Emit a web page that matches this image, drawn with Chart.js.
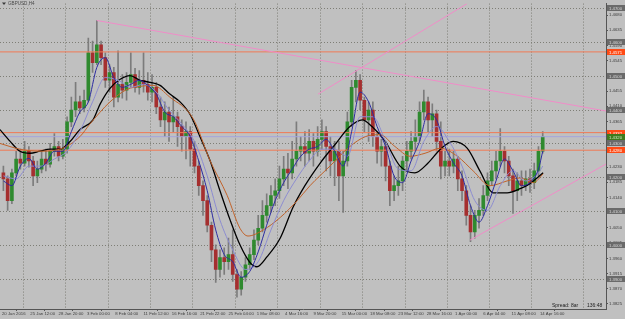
<!DOCTYPE html>
<html>
<head>
<meta charset="utf-8">
<script src="https://cdn.jsdelivr.net/npm/chart.js"></script>
<style>
  html, body { margin: 0; padding: 0; background: #c0c0c0; }
  canvas { display: block; }
</style>
</head>
<body>
<canvas id="gbpChart" width="625" height="319"></canvas>
<script>
// GBPUSD H4 - each candle here stands for 3 H4 bars
const timeLabels = ["20 Jan 2016", "25 Jan 12:00", "28 Jan 20:00", "3 Feb 00:00", "8 Feb 04:00",
  "11 Feb 12:00", "16 Feb 16:00", "21 Feb 22:00", "25 Feb 04:00", "1 Mar 08:00", "4 Mar 16:00",
  "9 Mar 20:00", "15 Mar 00:00", "18 Mar 08:00", "23 Mar 12:00", "28 Mar 16:00", "1 Apr 00:00",
  "6 Apr 04:00", "11 Apr 08:00", "14 Apr 16:00"];
const priceTicks = [1.3825, 1.3870, 1.3915, 1.3960, 1.4005, 1.4050, 1.4095, 1.4140, 1.4185, 1.4230,
  1.4275, 1.4320, 1.4365, 1.4410, 1.4455, 1.4500, 1.4545, 1.4590, 1.4635, 1.4680];
const gridLevels = [1.39, 1.40, 1.41, 1.42, 1.43, 1.44, 1.45, 1.46, 1.47];
const weekLines = [4.6, 14.5, 24.6, 34.5, 44.4, 54.6, 64.5, 74.6, 84.5, 94.6, 104.5, 114.4, 124.3, 136.5];

const opens = [1.4213, 1.4195, 1.4131, 1.4213, 1.4254, 1.4242, 1.4277, 1.4248, 1.4204, 1.4224,
  1.4254, 1.4239, 1.4277, 1.4291, 1.4262, 1.4283, 1.4364, 1.4399, 1.4423, 1.4405,
  1.4428, 1.4568, 1.4539, 1.4592, 1.4554, 1.4487, 1.4510, 1.4437, 1.4475, 1.4458,
  1.4481, 1.4504, 1.4466, 1.4487, 1.4475, 1.4452, 1.4466, 1.4408, 1.4370, 1.4393,
  1.4364, 1.4379, 1.4350, 1.4320, 1.4335, 1.4283, 1.4233, 1.4175, 1.4131, 1.4058,
  1.3985, 1.3927, 1.3962, 1.3950, 1.3971, 1.3912, 1.3869, 1.3904, 1.3941, 1.3971,
  1.4014, 1.4049, 1.4087, 1.4116, 1.4146, 1.4160, 1.4195, 1.4224, 1.4213, 1.4254,
  1.4277, 1.4291, 1.4271, 1.4306, 1.4277, 1.4312, 1.4335, 1.4291, 1.4248, 1.4277,
  1.4204, 1.4248, 1.4364, 1.4466, 1.4487, 1.4428, 1.4370, 1.4399, 1.4320, 1.4277,
  1.4291, 1.4233, 1.4160, 1.4175, 1.4189, 1.4248, 1.4277, 1.4306, 1.4320, 1.4393,
  1.4423, 1.4370, 1.4388, 1.4306, 1.4233, 1.4248, 1.4233, 1.4254, 1.4195, 1.4160,
  1.4087, 1.4038, 1.4087, 1.4102, 1.4146, 1.4189, 1.4219, 1.4248, 1.4277, 1.4248,
  1.4204, 1.4160, 1.4189, 1.4175, 1.4195, 1.4184, 1.4219, 1.4277];
const highs = [1.4233, 1.4204, 1.4224, 1.4277, 1.4283, 1.4306, 1.4291, 1.4262, 1.4248, 1.4277,
  1.4283, 1.4300, 1.4329, 1.4306, 1.4312, 1.4379, 1.4437, 1.4481, 1.4440, 1.4458,
  1.4612, 1.4603, 1.4664, 1.4603, 1.4568, 1.4533, 1.4525, 1.4574, 1.4504, 1.4510,
  1.4568, 1.4522, 1.4516, 1.4568, 1.4510, 1.4504, 1.4481, 1.4437, 1.4423, 1.4408,
  1.4437, 1.4393, 1.4370, 1.4364, 1.4350, 1.4306, 1.4248, 1.4189, 1.4146, 1.4067,
  1.4000, 1.3985, 1.3991, 1.4020, 1.4044, 1.3927, 1.3921, 1.3962, 1.3991, 1.4044,
  1.4087, 1.4131, 1.4151, 1.4175, 1.4195, 1.4233, 1.4262, 1.4271, 1.4306, 1.4364,
  1.4320, 1.4335, 1.4341, 1.4329, 1.4350, 1.4370, 1.4350, 1.4320, 1.4306, 1.4306,
  1.4277, 1.4393, 1.4487, 1.4516, 1.4504, 1.4437, 1.4423, 1.4423, 1.4335, 1.4312,
  1.4306, 1.4248, 1.4204, 1.4233, 1.4262, 1.4306, 1.4335, 1.4370, 1.4423, 1.4458,
  1.4437, 1.4417, 1.4399, 1.4364, 1.4277, 1.4283, 1.4277, 1.4262, 1.4219, 1.4175,
  1.4116, 1.4102, 1.4137, 1.4175, 1.4213, 1.4248, 1.4277, 1.4344, 1.4291, 1.4262,
  1.4224, 1.4213, 1.4219, 1.4219, 1.4224, 1.4242, 1.4291, 1.4335];
const lows = [1.4160, 1.4102, 1.4122, 1.4204, 1.4224, 1.4233, 1.4230, 1.4175, 1.4184, 1.4213,
  1.4219, 1.4230, 1.4262, 1.4248, 1.4254, 1.4271, 1.4350, 1.4379, 1.4388, 1.4393,
  1.4423, 1.4510, 1.4533, 1.4533, 1.4466, 1.4452, 1.4408, 1.4423, 1.4434, 1.4428,
  1.4466, 1.4452, 1.4446, 1.4452, 1.4428, 1.4423, 1.4388, 1.4350, 1.4320, 1.4306,
  1.4335, 1.4291, 1.4277, 1.4254, 1.4233, 1.4213, 1.4146, 1.4087, 1.4038, 1.3950,
  1.3889, 1.3904, 1.3912, 1.3927, 1.3892, 1.3845, 1.3851, 1.3892, 1.3927, 1.3956,
  1.4000, 1.4038, 1.4067, 1.4096, 1.4116, 1.4137, 1.4175, 1.4166, 1.4195, 1.4233,
  1.4248, 1.4233, 1.4248, 1.4233, 1.4262, 1.4283, 1.4219, 1.4204, 1.4175, 1.4131,
  1.4096, 1.4233, 1.4350, 1.4423, 1.4399, 1.4335, 1.4306, 1.4291, 1.4242, 1.4233,
  1.4189, 1.4116, 1.4131, 1.4146, 1.4160, 1.4219, 1.4254, 1.4277, 1.4306, 1.4370,
  1.4335, 1.4320, 1.4277, 1.4195, 1.4204, 1.4204, 1.4213, 1.4160, 1.4131, 1.4058,
  1.4009, 1.4020, 1.4049, 1.4087, 1.4131, 1.4175, 1.4195, 1.4233, 1.4213, 1.4175,
  1.4093, 1.4131, 1.4146, 1.4160, 1.4155, 1.4166, 1.4204, 1.4271];
const closes = [1.4195, 1.4131, 1.4213, 1.4254, 1.4242, 1.4277, 1.4248, 1.4204, 1.4224, 1.4254,
  1.4239, 1.4277, 1.4291, 1.4262, 1.4283, 1.4364, 1.4399, 1.4423, 1.4405, 1.4428,
  1.4568, 1.4539, 1.4592, 1.4554, 1.4487, 1.4510, 1.4437, 1.4475, 1.4458, 1.4481,
  1.4504, 1.4466, 1.4487, 1.4475, 1.4452, 1.4466, 1.4408, 1.4370, 1.4393, 1.4364,
  1.4379, 1.4350, 1.4320, 1.4335, 1.4283, 1.4233, 1.4175, 1.4131, 1.4058, 1.3985,
  1.3927, 1.3962, 1.3950, 1.3971, 1.3912, 1.3869, 1.3904, 1.3941, 1.3971, 1.4014,
  1.4049, 1.4087, 1.4116, 1.4146, 1.4160, 1.4195, 1.4224, 1.4213, 1.4254, 1.4277,
  1.4291, 1.4271, 1.4306, 1.4277, 1.4312, 1.4335, 1.4291, 1.4248, 1.4277, 1.4204,
  1.4248, 1.4364, 1.4466, 1.4487, 1.4428, 1.4370, 1.4399, 1.4320, 1.4277, 1.4291,
  1.4233, 1.4160, 1.4175, 1.4189, 1.4248, 1.4277, 1.4306, 1.4320, 1.4393, 1.4423,
  1.4370, 1.4388, 1.4306, 1.4233, 1.4248, 1.4233, 1.4254, 1.4195, 1.4160, 1.4087,
  1.4038, 1.4087, 1.4102, 1.4146, 1.4189, 1.4219, 1.4248, 1.4277, 1.4248, 1.4204,
  1.4160, 1.4189, 1.4175, 1.4195, 1.4184, 1.4219, 1.4277, 1.4320];

// moving averages (x = candle index)
const fastX = [0, 2, 4, 6, 8, 10, 12, 14, 16, 18, 20, 22, 24, 26, 28, 30, 32, 34, 36, 38, 40, 42, 44, 46,
  48, 50, 52, 54, 56, 58, 60, 62, 64, 66, 68, 70, 72, 74, 76, 78, 80, 82, 84, 86, 88, 90, 92, 94, 96,
  98, 100, 102, 104, 106, 108, 110, 112, 114, 116, 118, 120, 122, 124, 126, 127];
const fastMA = [1.4189, 1.4175, 1.4233, 1.4256, 1.4224, 1.4242, 1.4277, 1.4277, 1.4335, 1.4393,
  1.4423, 1.4525, 1.4554, 1.4495, 1.4466, 1.4475, 1.4487, 1.4472, 1.4446, 1.4393,
  1.4379, 1.4350, 1.4320, 1.4248, 1.4160, 1.4044, 1.3971, 1.3950, 1.3904, 1.3921,
  1.3979, 1.4058, 1.4131, 1.4184, 1.4224, 1.4262, 1.4283, 1.4291, 1.4312, 1.4277,
  1.4233, 1.4335, 1.4452, 1.4423, 1.4350, 1.4291, 1.4204, 1.4184, 1.4248, 1.4306,
  1.4388, 1.4370, 1.4291, 1.4242, 1.4204, 1.4116, 1.4067, 1.4116, 1.4189, 1.4254,
  1.4219, 1.4175, 1.4184, 1.4224, 1.4277];
const midX = [0, 3, 6, 9, 12, 15, 18, 21, 24, 27, 30, 33, 36, 39, 42, 45, 48, 51, 54, 57, 60, 63, 66,
  69, 72, 75, 78, 81, 84, 87, 90, 93, 96, 99, 102, 105, 108, 111, 114, 117, 120, 123, 126, 127];
const midMA = [1.4204, 1.4195, 1.4233, 1.4233, 1.4254, 1.4277, 1.4335, 1.4423, 1.4495, 1.4487,
  1.4466, 1.4475, 1.4452, 1.4399, 1.4358, 1.4306, 1.4204, 1.4073, 1.3985, 1.3927,
  1.3950, 1.4044, 1.4131, 1.4195, 1.4248, 1.4283, 1.4283, 1.4262, 1.4379, 1.4379,
  1.4306, 1.4224, 1.4219, 1.4306, 1.4350, 1.4306, 1.4233, 1.4131, 1.4102, 1.4175,
  1.4219, 1.4189, 1.4213, 1.4233];
const blackX = [-0.8, 1.6, 3.9, 6.3, 8.6, 11, 13.3, 15.7, 18, 21.1, 22.8, 25.1, 27.5, 29.8, 32.2,
  34.5, 36.9, 39.2, 41.6, 44, 46.3, 48.7, 51, 53.4, 55.7, 58.1, 59.7, 62.1, 65.2, 68.2, 71, 74.6,
  78.1, 81.6, 84.5, 86.8, 89.9, 93.4, 96.9, 100, 102.9, 105.9, 109.2, 112.2, 115.3, 118.6, 121.7, 124, 127.1];
const blackMA = [1.4341, 1.4306, 1.4277, 1.4271, 1.4277, 1.4283, 1.4283, 1.4306, 1.4341, 1.4370,
  1.4417, 1.4463, 1.4490, 1.4501, 1.4487, 1.4481, 1.4472, 1.4446, 1.4423, 1.4385,
  1.4320, 1.4248, 1.4160, 1.4073, 1.4000, 1.3947, 1.3935, 1.3965, 1.4020, 1.4111,
  1.4175, 1.4242, 1.4297, 1.4350, 1.4370, 1.4350, 1.4306, 1.4233, 1.4213, 1.4242,
  1.4283, 1.4306, 1.4286, 1.4219, 1.4154, 1.4154, 1.4166, 1.4181, 1.4213];
const orangeX = [-0.8, 3.9, 8.6, 13.3, 18, 20.4, 25.1, 29.1, 32.2, 35.2, 39.2, 44.7, 48.7, 52.7, 55.7,
  57.6, 61.2, 65.2, 69.2, 72.2, 76.9, 81.6, 85.2, 88.7, 92.2, 95.8, 99.3, 102.9, 106.9, 110.6,
  114.6, 118.6, 121.7, 124.8, 127.1];
const orangeMA = [1.4300, 1.4283, 1.4277, 1.4283, 1.4320, 1.4358, 1.4423, 1.4460, 1.4469, 1.4472,
  1.4437, 1.4373, 1.4248, 1.4146, 1.4049, 1.4026, 1.4044, 1.4081, 1.4131, 1.4175,
  1.4233, 1.4291, 1.4320, 1.4326, 1.4291, 1.4262, 1.4271, 1.4286, 1.4262, 1.4219,
  1.4175, 1.4189, 1.4198, 1.4184, 1.4210];

// drawn objects
const trendA = [[22, 1.4664], [141.9, 1.4396]];
const trendB = [[74.1, 1.4446], [109.2, 1.4714]];
const trendC = [[109.9, 1.4014], [141.9, 1.4239]];
const levelLines = [1.4571, 1.4332, 1.4280];
const bidPrice = 1.4320;

const xMin = -0.8, xMax = 141.9;
const upColor = "#2f8a2f", downColor = "#a52f2f", wickColor = "#7c7c7c";

function lineSet(xs, ys, color, width) {
  return {
    type: "line",
    data: xs.map((x, k) => ({ x: x, y: ys[k] })),
    borderColor: color,
    borderWidth: width,
    pointRadius: 0,
    fill: false,
    cubicInterpolationMode: "monotone",
    order: 0
  };
}

function segment(pts, color) {
  return {
    type: "line",
    data: pts.map(p => ({ x: p[0], y: p[1] })),
    borderColor: color,
    borderWidth: 1,
    pointRadius: 0,
    fill: false,
    order: 0
  };
}

const mtPlugin = {
  id: "mtDecor",
  beforeDatasetsDraw(chart) {
    const ctx = chart.ctx, a = chart.chartArea;
    const xs = chart.scales.x, ys = chart.scales.y;
    ctx.save();
    ctx.strokeStyle = "#7e7e76";
    ctx.lineWidth = 1;
    ctx.setLineDash([1, 2]);
    gridLevels.forEach(v => {
      const y = Math.round(ys.getPixelForValue(v)) + 0.5;
      ctx.beginPath(); ctx.moveTo(a.left, y); ctx.lineTo(a.right, y); ctx.stroke();
    });
    weekLines.forEach(v => {
      const x = Math.round(xs.getPixelForValue(v)) + 0.5;
      ctx.beginPath(); ctx.moveTo(x, a.top); ctx.lineTo(x, a.bottom); ctx.stroke();
    });
    ctx.restore();
  },
  afterDraw(chart) {
    const ctx = chart.ctx, a = chart.chartArea;
    const ys = chart.scales.y;
    ctx.save();
    ctx.font = "4.3px 'Liberation Sans'";
    ctx.textBaseline = "middle";
    ctx.textAlign = "left";
    function box(v, bg, fg) {
      const y = Math.round(ys.getPixelForValue(v));
      ctx.fillStyle = bg;
      ctx.fillRect(a.right + 1, y - 3, 18, 6);
      ctx.fillStyle = fg;
      ctx.fillText(v.toFixed(4), a.right + 3, y + 0.5);
    }
    gridLevels.forEach(v => box(v, "#6a6a6a", "#d8d8d8"));
    levelLines.forEach(v => box(v, "#ff4a14", "#ffffff"));
    box(bidPrice, "#3f7a1c", "#d0e8c0");

    // symbol caption
    ctx.fillStyle = "#3a3a3a";
    ctx.beginPath(); ctx.moveTo(2, 2.5); ctx.lineTo(6, 2.5); ctx.lineTo(4, 5); ctx.closePath(); ctx.fill();
    ctx.fillStyle = "#4a4a4a";
    ctx.font = "4.6px 'Liberation Sans'";
    ctx.fillText("GBPUSD,H4", 8, 4);

    // spread / timer
    ctx.fillStyle = "#222";
    ctx.font = "5px 'Liberation Sans'";
    ctx.fillText("Spread: 8ar", 552, 306);
    ctx.fillText("136:48", 587, 306);
    ctx.restore();
  }
};

new Chart(document.getElementById("gbpChart"), {
  type: "bar",
  data: {
    datasets: [
      lineSet(fastX, fastMA, "#2c2ca0", 1),
      lineSet(midX, midMA, "#8c8cd0", 1),
      lineSet(orangeX, orangeMA, "#c0622a", 1),
      lineSet(blackX, blackMA, "#000000", 1.3),
      segment(trendA, "#f08cc8"),
      segment(trendB, "#f08cc8"),
      segment(trendC, "#f08cc8"),
      segment([[xMin, levelLines[0]], [xMax, levelLines[0]]], "#f07a55"),
      segment([[xMin, levelLines[1]], [xMax, levelLines[1]]], "#f07a55"),
      segment([[xMin, levelLines[2]], [xMax, levelLines[2]]], "#f07a55"),
      segment([[xMin, bidPrice], [xMax, bidPrice]], "#a4a4dc"),
      {
        type: "bar",
        data: closes.map((c, i) => ({ x: i, y: [opens[i], c] })),
        backgroundColor: closes.map((c, i) => c >= opens[i] ? upColor : downColor),
        barThickness: 3,
        minBarLength: 1,
        grouped: false,
        order: 1
      },
      {
        type: "bar",
        data: closes.map((c, i) => ({ x: i, y: [lows[i], highs[i]] })),
        backgroundColor: wickColor,
        barThickness: 1,
        grouped: false,
        order: 2
      }
    ]
  },
  options: {
    responsive: false,
    animation: false,
    layout: { padding: 0 },
    plugins: { legend: { display: false }, tooltip: { enabled: false } },
    scales: {
      x: {
        type: "linear",
        min: xMin,
        max: xMax,
        position: "bottom",
        offset: false,
        grid: { drawOnChartArea: false, drawTicks: true, tickLength: 2, color: "#555" },
        border: { display: true, color: "#555" },
        ticks: {
          font: { size: 4.3, family: "'Liberation Sans'" },
          color: "#3c3c3c",
          align: "start",
          maxRotation: 0,
          autoSkip: false,
          padding: 0,
          callback: (v, i) => timeLabels[i]
        },
        afterBuildTicks: s => { s.ticks = timeLabels.map((_, k) => ({ value: k * 20 / 3 - 1 / 3 })); },
        afterFit: s => { s.height = 10; }
      },
      y: {
        type: "linear",
        position: "right",
        min: 1.3810,
        max: 1.4714,
        grid: { drawOnChartArea: false, drawTicks: true, tickLength: 2, color: "#555" },
        border: { display: true, color: "#555" },
        ticks: {
          font: { size: 4.3, family: "'Liberation Sans'" },
          color: "#3c3c3c",
          padding: 1,
          autoSkip: false,
          callback: v => v.toFixed(4)
        },
        afterBuildTicks: s => { s.ticks = priceTicks.map(v => ({ value: v })); },
        afterFit: s => { s.width = 19; }
      }
    }
  },
  plugins: [mtPlugin]
});
</script>
</body>
</html>
